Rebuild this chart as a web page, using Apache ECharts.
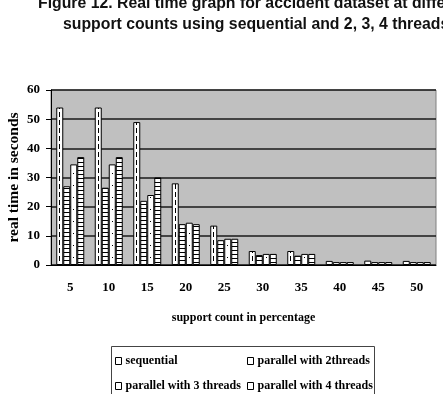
<!DOCTYPE html>
<html>
<head>
<meta charset="utf-8">
<script src="https://cdn.jsdelivr.net/npm/echarts@6/dist/echarts.min.js"></script>
<style>
  html, body { margin: 0; padding: 0; background: #fff; }
  #chart { width: 443px; height: 394px; }
</style>
</head>
<body>
<div id="chart"></div>
<script>
var supportCounts = ["5", "10", "15", "20", "25", "30", "35", "40", "45", "50"];
var sequential = [54, 54, 49, 28, 13.5, 4.8, 4.8, 1.4, 1.5, 1.4];
var parallel2 = [27, 26.5, 22, 14, 8.5, 3.4, 3.2, 1, 1, 1];
var parallel3 = [34.5, 34.5, 24, 14.5, 9, 3.8, 3.8, 1, 1, 1];
var parallel4 = [37, 37, 30, 14, 9, 3.8, 3.8, 1, 1, 1];
var seriesNames = ["sequential", "parallel with 2threads", "parallel with 3 threads", "parallel with 4 threads"];

var GRID_LEFT = 51, GRID_W = 385, BAR_W = 7;
var CAT_W = GRID_W / supportCounts.length;
var PERIOD = CAT_W * 2;

// fill patterns lined up with the bars (pattern is anchored at canvas origin)
function makePattern(k, h, draw) {
    var c = document.createElement('canvas');
    c.width = PERIOD; c.height = h;
    var ctx = c.getContext('2d');
    ctx.fillStyle = '#fff';
    ctx.fillRect(0, 0, PERIOD, h);
    ctx.fillStyle = '#000';
    for (var j = 0; j < 2; j++) {
        var left = (GRID_LEFT + CAT_W * j + CAT_W / 2 - 2 * BAR_W + BAR_W * k) % PERIOD;
        draw(ctx, left, h);
        draw(ctx, left - PERIOD, h);
    }
    return { image: c, repeat: 'repeat' };
}

var fills = [
    makePattern(0, 8, function (ctx, l, h) { ctx.fillRect(Math.round(l + 3), 0, 1, 5); }),
    makePattern(1, 4, function (ctx, l, h) { ctx.fillRect(l, 0, BAR_W, 1); }),
    makePattern(2, 12, function (ctx, l, h) { ctx.fillRect(Math.round(l + 3), 5, 1, 1); }),
    makePattern(3, 4, function (ctx, l, h) { ctx.fillRect(l, 2, BAR_W, 1); })
];

var chart = echarts.init(document.getElementById('chart'), null, { renderer: 'canvas' });

var serif = "'Liberation Serif', 'Times New Roman', serif";
var sans = "bold 15.8px 'Liberation Sans', Arial, sans-serif";
var dataSets = [sequential, parallel2, parallel3, parallel4];

var legendPos = [[115, 361], [247, 361], [115, 386], [247, 386]];

option = {
    animation: false,
    backgroundColor: '#fff',
    graphic: [
        { type: 'text', x: 38, y: 4, style: { text: 'Figure 12. Real time graph for accident dataset at different', font: sans, fill: '#111', verticalAlign: 'middle' } },
        { type: 'text', x: 63, y: 24.5, style: { text: 'support counts using sequential and 2, 3, 4 threads', font: sans, fill: '#111', verticalAlign: 'middle' } },
        { type: 'rect', shape: { x: 111.5, y: 346.5, width: 263, height: 60 }, style: { fill: 'none', stroke: '#444', lineWidth: 1 } }
    ],
    legend: legendPos.map(function (p, i) {
        return {
            data: [{ name: seriesNames[i], itemStyle: { color: '#fff', borderColor: '#000', borderWidth: 1 } }],
            left: p[0], top: p[1] - 7, padding: 0,
            icon: 'rect', itemWidth: 6, itemHeight: 7, itemGap: 4,
            textStyle: { fontFamily: serif, fontWeight: 'bold', fontSize: 12, lineHeight: 14, color: '#000', padding: [0, 0, 0, -1] }
        };
    }),
    grid: {
        left: GRID_LEFT, top: 90, width: GRID_W, height: 175,
        outerBoundsMode: 'none', containLabel: false,
        show: true, backgroundColor: '#c0c0c0', borderColor: '#808080', borderWidth: 1
    },
    xAxis: {
        type: 'category',
        data: supportCounts,
        name: 'support count in percentage',
        nameLocation: 'middle',
        nameGap: 47,
        nameMoveOverlap: false,
        nameTextStyle: { fontFamily: serif, fontWeight: 'bold', fontSize: 12, color: '#000' },
        axisLine: { lineStyle: { color: '#000' } },
        axisTick: { length: 5, lineStyle: { color: '#000' } },
        axisLabel: { margin: 16, fontFamily: serif, fontWeight: 'bold', fontSize: 13, color: '#000' }
    },
    yAxis: {
        type: 'value',
        min: 0, max: 60, interval: 10,
        name: 'real time in seconds',
        nameLocation: 'middle',
        nameGap: 29,
        nameMoveOverlap: false,
        nameTextStyle: { fontFamily: serif, fontWeight: 'bold', fontSize: 15.5, color: '#000' },
        axisLine: { show: true, lineStyle: { color: '#000' } },
        axisTick: { show: true, length: 5, lineStyle: { color: '#000' } },
        axisLabel: { margin: 11, fontFamily: serif, fontWeight: 'bold', fontSize: 13, color: '#000' },
        splitLine: { lineStyle: { color: '#1a1a1a', width: 1.5 } }
    },
    series: dataSets.map(function (d, i) {
        return {
            name: seriesNames[i],
            type: 'bar',
            data: d,
            barWidth: BAR_W,
            barGap: '0%',
            itemStyle: { color: fills[i], borderColor: '#000', borderWidth: 1 }
        };
    })
};

chart.setOption(option);
</script>
</body>
</html>
